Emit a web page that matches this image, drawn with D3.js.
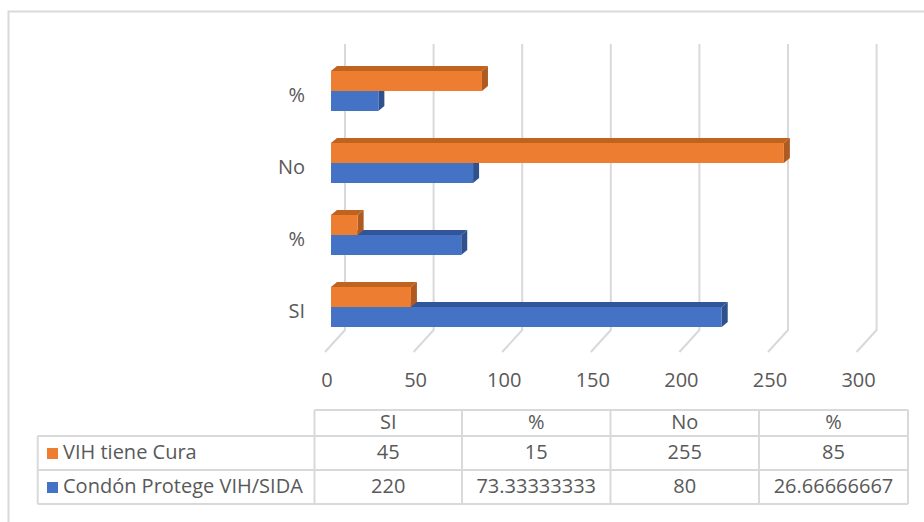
<!DOCTYPE html>
<html>
<head>
<meta charset="utf-8">
<script src="https://cdn.jsdelivr.net/npm/d3@7"></script>
<style>
  html, body { margin: 0; padding: 0; background: #ffffff; }
  svg { display: block; }
  text { font-family: "Open Sans", "Noto Sans", sans-serif; fill: #595959; }
</style>
</head>
<body>
<svg id="chart" width="924" height="522"></svg>
<script>
// ---- data ----
const categories = ["SI", "%", "No", "%"];
const seriesNames = ["VIH tiene Cura", "Condón Protege VIH/SIDA"];
const vihTieneCura = [45, 15, 255, 85];
const condonProtege = [220, 73.33333333, 80, 26.66666667];
const tableValuesCura = ["45", "15", "255", "85"];
const tableValuesCondon = ["220", "73.33333333", "80", "26.66666667"];
const xTicks = [0, 50, 100, 150, 200, 250, 300];
const seriesColors = ["#ED7D31", "#4472C4"];
const sideColors = ["#AE5A21", "#2F528F"];
const topColors = ["#C0631F", "#32559A"];

const svg = d3.select("#chart");
const fs = "20px";

// chart border
svg.append("rect")
  .attr("x", 8.5).attr("y", 11.5)
  .attr("width", 940).attr("height", 540)
  .attr("fill", "none").attr("stroke", "#D9D9D9").attr("stroke-width", 2);

// scales
const xBar = d3.scaleLinear().domain([0, 300]).range([331, 331 + 300 * 1.776]);
const xBack = d3.scaleLinear().domain([0, 300]).range([345, 345 + 300 * 1.772]);
const xFloor = d3.scaleLinear().domain([0, 300]).range([325, 325 + 300 * 1.772]);
const yMid = d3.scalePoint().domain(d3.range(categories.length)).range([307, 91]);
const barH = 20, dx = 6, dy = 5;
const wallTop = 44, wallBottom = 330, floorFront = 352;

// gridlines on back wall + floor
const grid = svg.append("g");
xTicks.forEach(t => {
  grid.append("path")
    .attr("d", `M${xBack(t)},${wallTop} L${xBack(t)},${wallBottom} L${xFloor(t)},${floorFront}`)
    .attr("fill", "none").attr("stroke", "#D9D9D9").attr("stroke-width", 2);
});

// tick labels
svg.append("g").selectAll("text").data(xTicks).join("text")
  .attr("x", d => xFloor(d) + 2).attr("y", 382)
  .attr("text-anchor", "middle").attr("dominant-baseline", "middle")
  .style("font-size", fs)
  .text(d => d);

// category labels
svg.append("g").selectAll("text").data(categories).join("text")
  .attr("x", 305).attr("y", (d, i) => yMid(i) + 6)
  .attr("text-anchor", "end").attr("dominant-baseline", "middle")
  .style("font-size", fs)
  .text(d => d);

// 3D bar drawing
function bar3d(g, v, yTop, si) {
  const x0 = xBar(0), x1 = xBar(v), y0 = yTop, y1 = yTop + barH;
  g.append("path")
    .attr("d", `M${x0},${y0} L${x0 + dx},${y0 - dy} L${x1 + dx},${y0 - dy} L${x1},${y0} Z`)
    .attr("fill", topColors[si]);
  g.append("path")
    .attr("d", `M${x1},${y0} L${x1 + dx},${y0 - dy} L${x1 + dx},${y1 - dy} L${x1},${y1} Z`)
    .attr("fill", sideColors[si]);
  g.append("rect")
    .attr("x", x0).attr("y", y0).attr("width", x1 - x0).attr("height", barH)
    .attr("fill", seriesColors[si]);
}

const bars = svg.append("g");
categories.forEach((c, i) => {
  const m = yMid(i);
  // blue (lower) first, then orange above it
  bar3d(bars, condonProtege[i], m, 1);
  bar3d(bars, vihTieneCura[i], m - barH, 0);
});

// data table
const colX = [37.7, 314.5, 462, 610.5, 759, 908];
const rowY = [410, 436, 470, 504];
const tbl = svg.append("g");
const lineStyle = s => s.attr("stroke", "#D9D9D9").attr("stroke-width", 2);
// horizontal lines
tbl.append("line").attr("x1", colX[1]).attr("x2", colX[5]).attr("y1", rowY[0]).attr("y2", rowY[0]).call(lineStyle);
[1, 2, 3].forEach(r => tbl.append("line").attr("x1", colX[0]).attr("x2", colX[5]).attr("y1", rowY[r]).attr("y2", rowY[r]).call(lineStyle));
// vertical lines
tbl.append("line").attr("x1", colX[0]).attr("x2", colX[0]).attr("y1", rowY[1]).attr("y2", rowY[3]).call(lineStyle);
[1, 2, 3, 4, 5].forEach(c => tbl.append("line").attr("x1", colX[c]).attr("x2", colX[c]).attr("y1", rowY[0]).attr("y2", rowY[3]).call(lineStyle));

// header
categories.forEach((c, i) => {
  tbl.append("text").attr("x", (colX[i + 1] + colX[i + 2]) / 2).attr("y", (rowY[0] + rowY[1]) / 2 + 1)
    .attr("text-anchor", "middle").attr("dominant-baseline", "middle")
    .style("font-size", fs).text(c);
});
const rows = [tableValuesCura, tableValuesCondon];
rows.forEach((vals, r) => {
  const cy = (rowY[r + 1] + rowY[r + 2]) / 2 + 1;
  tbl.append("rect").attr("x", 47).attr("y", cy - 6).attr("width", 11).attr("height", 11).attr("fill", seriesColors[r]);
  tbl.append("text").attr("x", 63).attr("y", cy).attr("dominant-baseline", "middle")
    .style("font-size", fs).text(seriesNames[r]);
  vals.forEach((v, i) => {
    tbl.append("text").attr("x", (colX[i + 1] + colX[i + 2]) / 2).attr("y", cy)
      .attr("text-anchor", "middle").attr("dominant-baseline", "middle")
      .style("font-size", fs).text(v);
  });
});
</script>
</body>
</html>
